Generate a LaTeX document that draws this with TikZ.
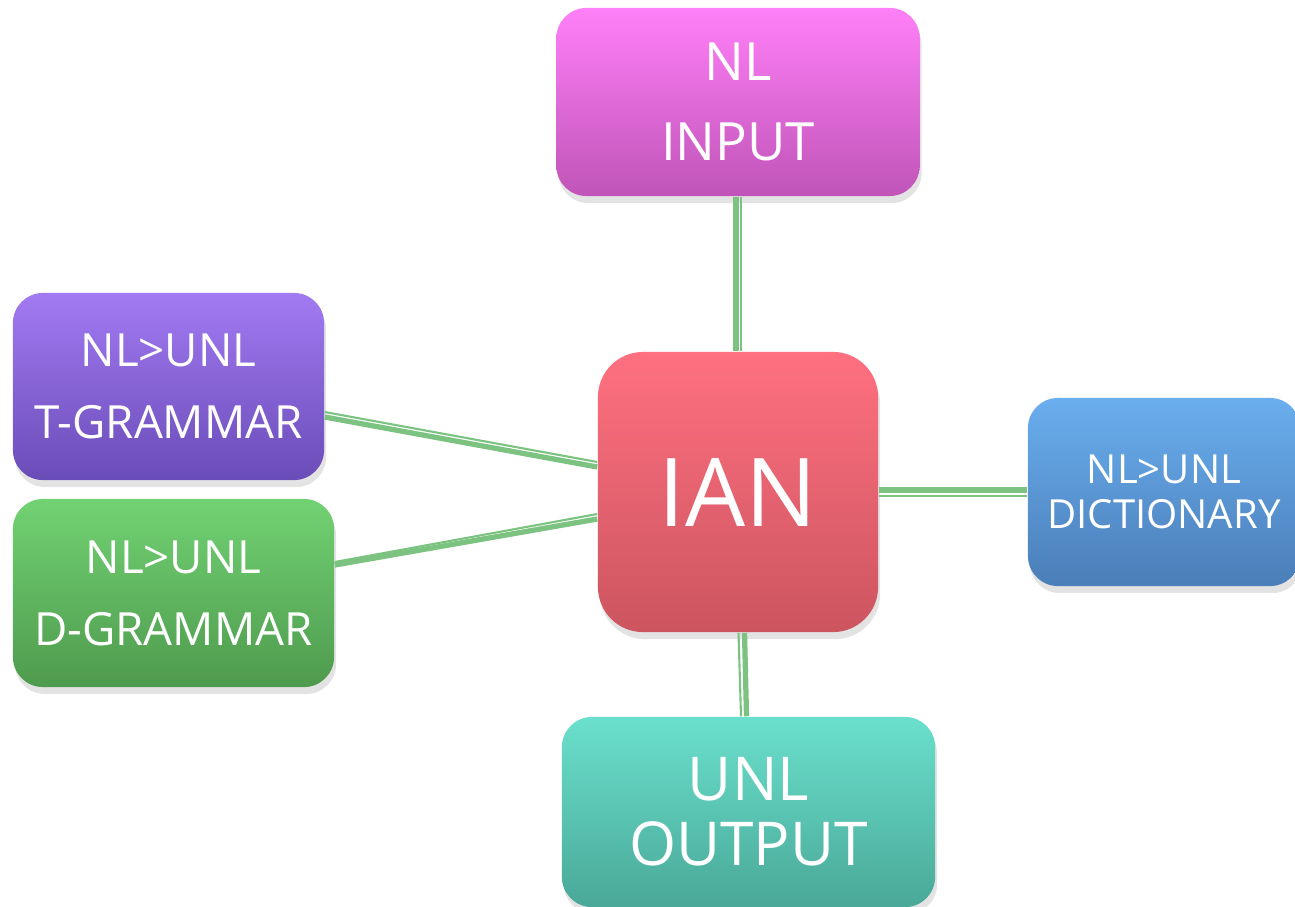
\documentclass[tikz,border=0pt]{standalone}
\usepackage{fontspec}
\setmainfont{Open Sans}
\usetikzlibrary{shadows}
\definecolor{lnk}{HTML}{7CC381}
\tikzset{
  box/.style={rounded corners=3mm, text=white, align=center, inner sep=0pt,
    drop shadow={opacity=0.22, shadow xshift=0.2mm, shadow yshift=-0.7mm}},
  thickl/.style={draw=lnk, line width=1.5pt},
  thinl/.style={draw=lnk, line width=0.6pt},
}
\begin{document}
\begin{tikzpicture}[x=0.01cm, y=-0.01cm]
\useasboundingbox (0,0) rectangle (1295,906);
\node[box, top color={rgb,255:red,255;green,128;blue,248}, bottom color={rgb,255:red,192;green,84;blue,184},
  minimum width=3.63cm, minimum height=1.88cm, font=\fontsize{15}{22.8}\selectfont]
  (in) at (738,102) {NL\\INPUT};
\node[box, top color={rgb,255:red,162;green,122;blue,242}, bottom color={rgb,255:red,106;green,76;blue,184},
  minimum width=3.11cm, minimum height=1.87cm, font=\fontsize{13}{20.5}\selectfont]
  (tg) at (168.5,386.5) {NL>UNL\\T-GRAMMAR};
\node[box, top color={rgb,255:red,114;green,210;blue,114}, bottom color={rgb,255:red,78;green,154;blue,78},
  minimum width=3.21cm, minimum height=1.88cm, font=\fontsize{13}{20.5}\selectfont]
  (dg) at (173.5,593) {NL>UNL\\D-GRAMMAR};
\node[box, rounded corners=4.5mm, top color={rgb,255:red,255;green,112;blue,128}, bottom color={rgb,255:red,204;green,85;blue,96},
  minimum width=2.80cm, minimum height=2.80cm, font=\fontsize{27}{30}\selectfont]
  (ian) at (738,492) {IAN};
\node[box, top color={rgb,255:red,106;green,174;blue,238}, bottom color={rgb,255:red,74;green,126;blue,184},
  minimum width=2.72cm, minimum height=1.88cm, font=\fontsize{11.4}{13}\selectfont]
  (dict) at (1164,492) {NL>UNL\\DICTIONARY};
\node[box, top color={rgb,255:red,106;green,224;blue,204}, bottom color={rgb,255:red,74;green,168;blue,152},
  minimum width=3.73cm, minimum height=1.90cm, font=\fontsize{17.2}{18.5}\selectfont]
  (out) at (748.5,812) {UNL\\OUTPUT};
% connectors
\draw[thickl] ([xshift=-0.02cm]in.south) -- ([xshift=-0.02cm]ian.north);
\draw[thinl] ([xshift=0.03cm]in.south) -- ([xshift=0.03cm]ian.north);
\draw[thickl] ([yshift=-0.305cm]tg.east) -- ([yshift=0.25cm]ian.west);
\draw[thinl] ([yshift=-0.255cm]tg.east) -- ([yshift=0.30cm]ian.west);
\draw[thickl] ([yshift=0.28cm]dg.east) -- ([yshift=-0.27cm]ian.west);
\draw[thinl] ([yshift=0.31cm]dg.east) -- ([yshift=-0.22cm]ian.west);
\draw[thickl] ([yshift=0.02cm]ian.east) -- ([yshift=0.02cm]dict.west);
\draw[thinl] ([yshift=-0.04cm]ian.east) -- ([yshift=-0.04cm]dict.west);
\draw[thickl] ([xshift=0.065cm]ian.south) -- ([xshift=-0.02cm]out.north);
\draw[thinl] ([xshift=0.005cm]ian.south) -- ([xshift=-0.075cm]out.north);
\end{tikzpicture}
\end{document}
